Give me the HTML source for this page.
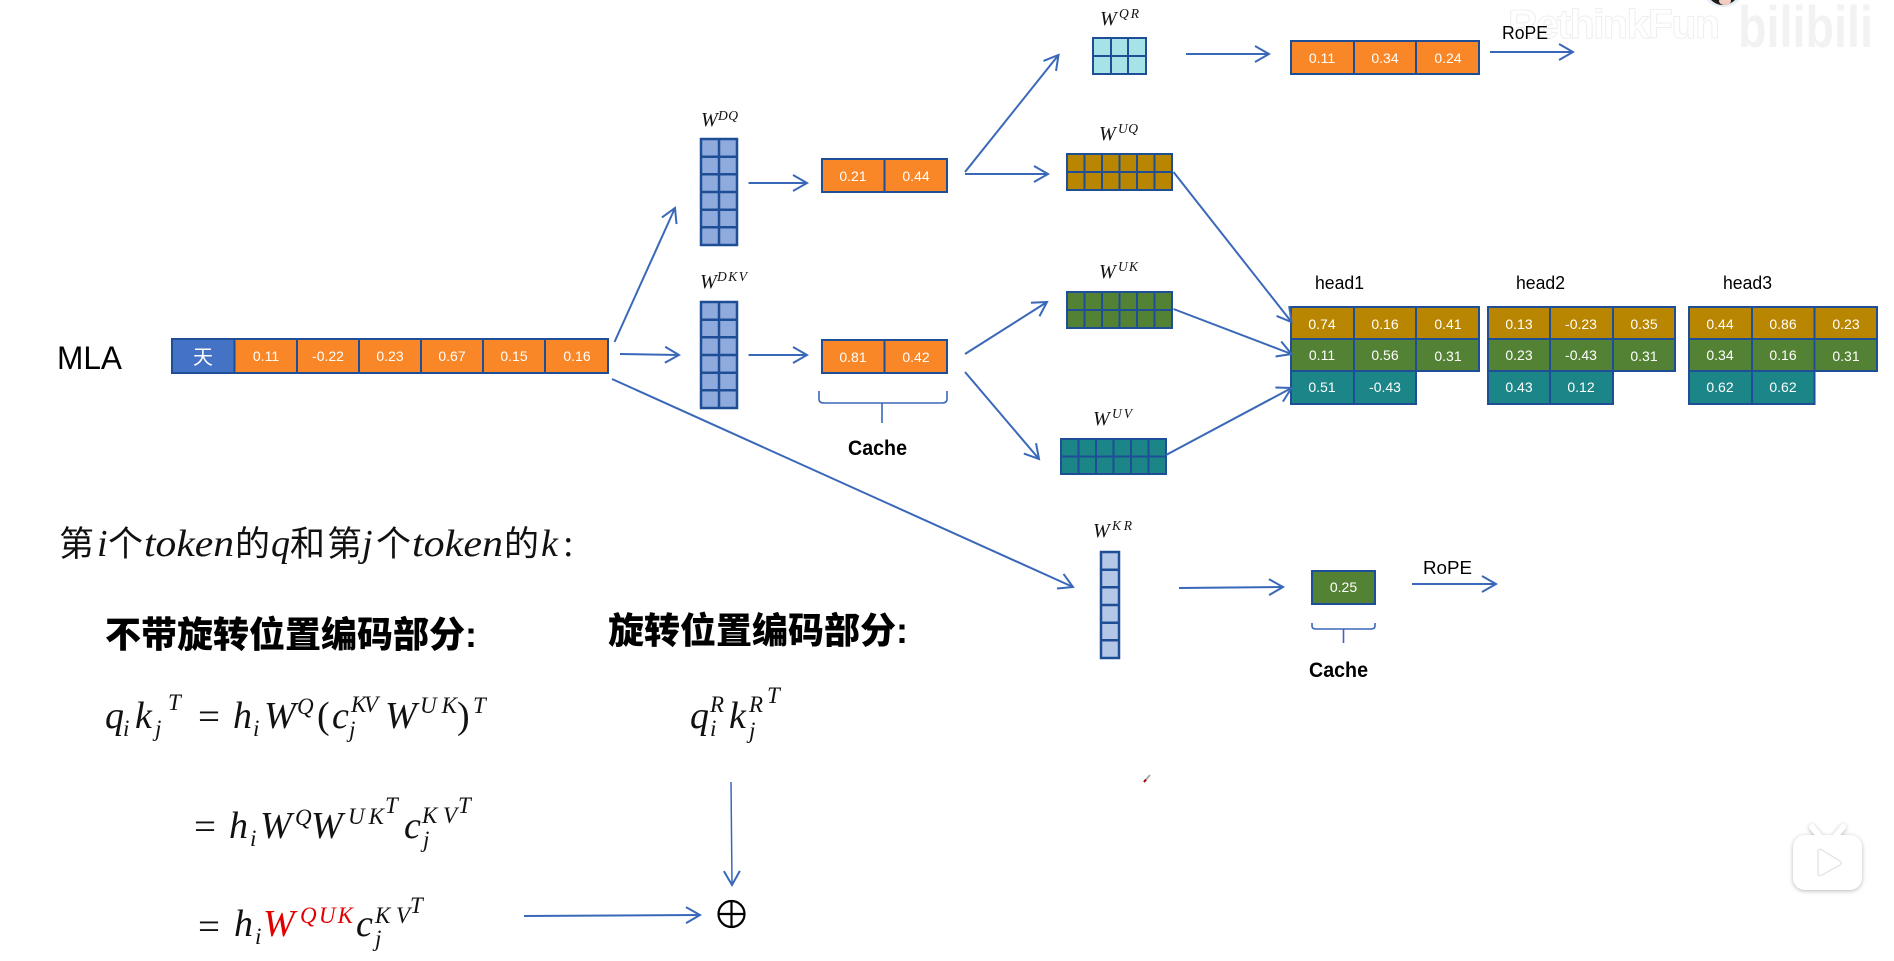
<!DOCTYPE html>
<html lang="zh">
<head>
<meta charset="utf-8">
<title>MLA diagram</title>
<style>
html,body{margin:0;padding:0;background:#fff;width:1894px;height:961px;overflow:hidden}
svg{display:block}
.c{font:14px "Liberation Sans",sans-serif;fill:#fff;text-anchor:middle}
.l{font:18px "Liberation Sans",sans-serif;fill:#000}
.b{font:bold 21px "Liberation Sans",sans-serif;fill:#000}
.m{font:italic 38px "Liberation Serif",serif;fill:#111}
.s{font:italic 23px "Liberation Serif",serif;fill:#111}
.w{font:italic 20px "Liberation Serif",serif;fill:#111}
.ws{font:italic 13.500px "Liberation Serif",serif;fill:#111}
.n{font:38px "Liberation Serif",serif;fill:#111}
.z{font:35px "Noto Sans CJK SC",sans-serif;fill:#111}
.h{font:900 36px "Liberation Sans","Noto Sans CJK SC",sans-serif;fill:#000}
.a{fill:none;stroke:#3a68b8;stroke-width:2;marker-end:url(#ah)}
.g{fill:none;stroke:#1e4e95;stroke-width:2}
.t{fill:none;stroke:#1e4e95;stroke-width:2.500}
.r{fill:#e00000}
</style>
</head>
<body>
<svg width="1894" height="961" viewBox="0 0 1894 961" xmlns="http://www.w3.org/2000/svg">
<defs>
<marker id="ah" markerUnits="userSpaceOnUse" markerWidth="30" markerHeight="30" refX="0" refY="0" viewBox="-20 -15 30 30" orient="auto" overflow="visible">
<path d="M-14,-8 L0,0 L-14,8" fill="none" stroke="#3a68b8" stroke-width="2"/>
</marker>
</defs>

<!-- watermark -->
<text x="1508" y="38" font-family="Liberation Sans,sans-serif" font-size="41" font-weight="700" fill="#fff" stroke="#efefef" stroke-width="1" textLength="212" lengthAdjust="spacing">RethinkFun</text>
<text x="1738" y="47" font-family="Liberation Sans,sans-serif" font-size="58" font-weight="700" fill="#f2f2f2" textLength="135" lengthAdjust="spacingAndGlyphs">bilibili</text>
<circle cx="1723" cy="-16" r="23" fill="#e4ecf6"/>
<circle cx="1723" cy="-12" r="17" fill="#1c1c1c"/>
<ellipse cx="1725" cy="1" rx="6" ry="4" fill="#f3cdbf"/>

<!-- MLA -->
<text x="57" y="369" font-family="Liberation Sans,sans-serif" font-size="32" fill="#000" textLength="65" lengthAdjust="spacingAndGlyphs">MLA</text>
<rect x="172" y="339" width="62.500" height="34" fill="#4472c4"/>
<rect x="234.500" y="339" width="373.500" height="34" fill="#f98728"/>
<rect x="172" y="339" width="436" height="34" class="g"/>
<path class="g" d="M234.500 339V373M297 339V373M359 339V373M421 339V373M483 339V373M545 339V373"/>
<text x="203" y="364" font-family="Noto Sans CJK SC,sans-serif" font-size="20" fill="#fff" text-anchor="middle">天</text>
<text class="c" x="266" y="361">0.11</text>
<text class="c" x="328" y="361">-0.22</text>
<text class="c" x="390" y="361">0.23</text>
<text class="c" x="452" y="361">0.67</text>
<text class="c" x="514" y="361">0.15</text>
<text class="c" x="577" y="361">0.16</text>

<!-- WDQ / WDKV -->
<text class="w" x="701" y="126">W</text><text class="ws" x="718" y="120" textLength="20">DQ</text>
<text class="w" x="700" y="288">W</text><text class="ws" x="717" y="281" textLength="30">DKV</text>
<rect x="701" y="139" width="36" height="106" fill="#8faadc"/>
<rect x="701" y="139" width="36" height="106" class="t"/>
<path class="t" d="M719 139V245M701 156.700H737M701 174.300H737M701 192H737M701 209.700H737M701 227.300H737"/>
<rect x="701" y="302" width="36" height="106" fill="#8faadc"/>
<rect x="701" y="302" width="36" height="106" class="t"/>
<path class="t" d="M719 302V408M701 319.700H737M701 337.300H737M701 355H737M701 372.700H737M701 390.300H737"/>

<!-- two-cell orange -->
<rect x="822" y="159" width="125" height="33" fill="#f98728"/>
<rect x="822" y="159" width="125" height="33" class="g"/>
<path class="g" d="M884.500 159V192"/>
<text class="c" x="853" y="181">0.21</text><text class="c" x="916" y="181">0.44</text>
<rect x="822" y="340" width="125" height="33" fill="#f98728"/>
<rect x="822" y="340" width="125" height="33" class="g"/>
<path class="g" d="M884.500 340V373"/>
<text class="c" x="853" y="362">0.81</text><text class="c" x="916" y="362">0.42</text>

<!-- cache brace 1 -->
<path d="M819 391V399Q819 403 824 403H882M882 423V403M947 391V399Q947 403 942 403H882" fill="none" stroke="#3a68b8" stroke-width="1.600"/>
<text class="b" x="848" y="455" textLength="59" lengthAdjust="spacingAndGlyphs">Cache</text>

<!-- WQR -->
<text class="w" x="1100" y="25">W</text><text class="ws" x="1119" y="18" textLength="20">QR</text>
<rect x="1093" y="38" width="53" height="36" fill="#a5e3e6"/>
<rect x="1093" y="38" width="53" height="36" class="g"/>
<path class="g" d="M1111 38V74M1128 38V74M1093 56H1146"/>

<!-- WUQ -->
<text class="w" x="1099" y="140">W</text><text class="ws" x="1118" y="133" textLength="20">UQ</text>
<rect x="1067" y="154" width="105" height="36" fill="#b88600"/>
<rect x="1067" y="154" width="105" height="36" class="g"/>
<path class="g" d="M1084.500 154V190M1102 154V190M1119.500 154V190M1137 154V190M1154.500 154V190M1067 172H1172"/>

<!-- WUK -->
<text class="w" x="1099" y="278">W</text><text class="ws" x="1118" y="271" textLength="20">UK</text>
<rect x="1067" y="292" width="105" height="36" fill="#548235"/>
<rect x="1067" y="292" width="105" height="36" class="g"/>
<path class="g" d="M1084.500 292V328M1102 292V328M1119.500 292V328M1137 292V328M1154.500 292V328M1067 310H1172"/>

<!-- WUV -->
<text class="w" x="1093" y="425">W</text><text class="ws" x="1112" y="418" textLength="20">UV</text>
<rect x="1061" y="439" width="105" height="35" fill="#1b8587"/>
<rect x="1061" y="439" width="105" height="35" class="g"/>
<path class="g" d="M1078.500 439V474M1096 439V474M1113.500 439V474M1131 439V474M1148.500 439V474M1061 456.500H1166"/>

<!-- top orange -->
<rect x="1291" y="41" width="188" height="33" fill="#f98728"/>
<rect x="1291" y="41" width="188" height="33" class="g"/>
<path class="g" d="M1354 41V74M1416 41V74"/>
<text class="c" x="1322" y="63">0.11</text><text class="c" x="1385" y="63">0.34</text><text class="c" x="1448" y="63">0.24</text>
<text class="l" x="1502" y="39" textLength="46" lengthAdjust="spacingAndGlyphs">RoPE</text>

<!-- heads -->
<text class="l" x="1315" y="289" textLength="49" lengthAdjust="spacingAndGlyphs">head1</text>
<text class="l" x="1516" y="289" textLength="49" lengthAdjust="spacingAndGlyphs">head2</text>
<text class="l" x="1723" y="289" textLength="49" lengthAdjust="spacingAndGlyphs">head3</text>

<!-- head1 -->
<g>
<rect x="1291" y="307" width="188" height="32" fill="#b88600"/>
<rect x="1291" y="339" width="188" height="32" fill="#548235"/>
<rect x="1291" y="371" width="125" height="33" fill="#1b8587"/>
<path class="g" d="M1291 307H1479V371H1416V404H1291ZM1291 339H1479M1291 371H1416M1354 307V404M1416 307V371"/>
<text class="c" x="1322" y="329">0.74</text><text class="c" x="1385" y="329">0.16</text><text class="c" x="1448" y="329">0.41</text>
<text class="c" x="1322" y="360">0.11</text><text class="c" x="1385" y="360">0.56</text><text class="c" x="1448" y="361">0.31</text>
<text class="c" x="1322" y="392">0.51</text><text class="c" x="1385" y="392">-0.43</text>
</g>
<!-- head2 -->
<g>
<rect x="1488" y="307" width="187" height="32" fill="#b88600"/>
<rect x="1488" y="339" width="187" height="32" fill="#548235"/>
<rect x="1488" y="371" width="125" height="33" fill="#1b8587"/>
<path class="g" d="M1488 307H1675V371H1613V404H1488ZM1488 339H1675M1488 371H1613M1550 307V404M1613 307V371"/>
<text class="c" x="1519" y="329">0.13</text><text class="c" x="1581" y="329">-0.23</text><text class="c" x="1644" y="329">0.35</text>
<text class="c" x="1519" y="360">0.23</text><text class="c" x="1581" y="360">-0.43</text><text class="c" x="1644" y="361">0.31</text>
<text class="c" x="1519" y="392">0.43</text><text class="c" x="1581" y="392">0.12</text>
</g>
<!-- head3 -->
<g>
<rect x="1689" y="307" width="188" height="32" fill="#b88600"/>
<rect x="1689" y="339" width="188" height="32" fill="#548235"/>
<rect x="1689" y="371" width="125" height="33" fill="#1b8587"/>
<path class="g" d="M1689 307H1877V371H1814.500V404H1689ZM1689 339H1877M1689 371H1814.500M1752 307V404M1814.500 307V371"/>
<text class="c" x="1720" y="329">0.44</text><text class="c" x="1783" y="329">0.86</text><text class="c" x="1846" y="329">0.23</text>
<text class="c" x="1720" y="360">0.34</text><text class="c" x="1783" y="360">0.16</text><text class="c" x="1846" y="361">0.31</text>
<text class="c" x="1720" y="392">0.62</text><text class="c" x="1783" y="392">0.62</text>
</g>

<!-- WKR -->
<text class="w" x="1093" y="537">W</text><text class="ws" x="1112" y="530" textLength="20">KR</text>
<rect x="1101" y="552" width="18" height="106" fill="#b4c7e7"/>
<rect x="1101" y="552" width="18" height="106" class="t"/>
<path class="t" d="M1101 569.700H1119M1101 587.300H1119M1101 605H1119M1101 622.700H1119M1101 640.300H1119"/>

<rect x="1312" y="571" width="63" height="33" fill="#548235"/>
<rect x="1312" y="571" width="63" height="33" class="g"/>
<text class="c" x="1343.500" y="592">0.25</text>
<path d="M1312 623V626Q1312 629 1316 629H1343.500M1343.500 643V629M1375 623V626Q1375 629 1371 629H1343.500" fill="none" stroke="#3a68b8" stroke-width="1.600"/>
<text class="b" x="1309" y="677" textLength="59" lengthAdjust="spacingAndGlyphs">Cache</text>
<text class="l" x="1423" y="574" textLength="49" lengthAdjust="spacingAndGlyphs">RoPE</text>

<!-- arrows -->
<path class="a" d="M614.500 342L675 208"/>
<path class="a" d="M620 354L679 355"/>
<path class="a" d="M748.500 183L807 183"/>
<path class="a" d="M748.500 355L807 355"/>
<path class="a" d="M612 379L1073 587"/>
<path class="a" d="M965 172L1058.500 55"/>
<path class="a" d="M965 174L1048 174"/>
<path class="a" d="M965 354L1047 302"/>
<path class="a" d="M965 372L1039 459"/>
<path class="a" d="M1186 54L1269 54"/>
<path class="a" d="M1490 52L1573 52"/>
<path class="a" d="M1173.500 172L1291.500 322"/>
<path class="a" d="M1173.500 309L1291.500 354"/>
<path class="a" d="M1166 455L1291.500 388"/>
<path class="a" d="M1179 588L1283 587"/>
<path class="a" d="M1412 584L1496 584"/>
<path class="a" d="M731 782L732 885" style="stroke-width:1.500"/>
<path class="a" d="M524 916L700 915"/>

<!-- left text -->
<text class="z" x="59" y="556">第</text>
<text class="m" x="97" y="556">i</text>
<text class="z" x="108" y="556">个</text>
<text class="m" x="144" y="556" textLength="90" lengthAdjust="spacingAndGlyphs">token</text>
<text class="z" x="235" y="556">的</text>
<text class="m" x="271" y="556">q</text>
<text class="z" x="290" y="556">和</text>
<text class="z" x="327" y="556">第</text>
<text class="m" x="362" y="556">j</text>
<text class="z" x="376" y="556">个</text>
<text class="m" x="412" y="556" textLength="91" lengthAdjust="spacingAndGlyphs">token</text>
<text class="z" x="504" y="556">的</text>
<text class="m" x="541" y="556">k</text>
<text class="n" x="563" y="556">:</text>

<text class="h" x="105" y="647">不带旋转位置编码部分:</text>
<text class="h" x="608" y="643">旋转位置编码部分:</text>

<!-- formula 1 -->
<text class="m" x="105" y="728">q</text><text class="s" x="123" y="736">i</text>
<text class="m" x="135" y="728">k</text><text class="s" x="155" y="736">j</text><text class="s" x="168" y="710">T</text>
<text class="n" x="198" y="729" textLength="22" lengthAdjust="spacingAndGlyphs">=</text>
<text class="m" x="233" y="728">h</text><text class="s" x="253" y="736">i</text>
<text class="m" x="264" y="728">W</text><text class="s" x="297" y="714">Q</text>
<text class="n" x="317" y="728">(</text>
<text class="m" x="332" y="728">c</text><text class="s" x="349" y="737">j</text><text class="s" x="351" y="712" textLength="27">KV</text>
<text class="m" x="385" y="728">W</text><text class="s" x="420" y="713" textLength="37">UK</text>
<text class="n" x="457" y="728">)</text><text class="s" x="473" y="713">T</text>

<!-- formula 2 -->
<text class="n" x="194" y="839" textLength="22" lengthAdjust="spacingAndGlyphs">=</text>
<text class="m" x="229" y="838">h</text><text class="s" x="250" y="846">i</text>
<text class="m" x="260" y="838">W</text><text class="s" x="295" y="825">Q</text>
<text class="m" x="311" y="838">W</text><text class="s" x="348" y="824" textLength="36">UK</text>
<text class="s" x="385" y="813">T</text>
<text class="m" x="404" y="838">c</text><text class="s" x="423" y="847">j</text><text class="s" x="422" y="823" textLength="35">KV</text>
<text class="s" x="458" y="813">T</text>

<!-- formula 3 -->
<text class="n" x="198" y="939" textLength="22" lengthAdjust="spacingAndGlyphs">=</text>
<text class="m" x="234" y="936">h</text><text class="s" x="255" y="944">i</text>
<text class="m r" x="263" y="936">W</text><text class="s r" x="300" y="923" textLength="53">QUK</text>
<text class="m" x="356" y="936">c</text><text class="s" x="375" y="946">j</text><text class="s" x="375" y="923" textLength="35">KV</text>
<text class="s" x="410" y="913">T</text>

<!-- right formula -->
<text class="m" x="690" y="728">q</text><text class="s" x="710" y="736">i</text><text class="s" x="710" y="712">R</text>
<text class="m" x="729" y="728">k</text><text class="s" x="749" y="738">j</text><text class="s" x="749" y="712">R</text><text class="s" x="767" y="703">T</text>

<!-- oplus -->
<circle cx="731.500" cy="914" r="13" fill="none" stroke="#000" stroke-width="2.200"/>
<path d="M718.500 914H744.500M731.500 901V927" stroke="#000" stroke-width="2.200" fill="none"/>

<!-- pen mark -->
<path d="M1144 782L1150 775" stroke="#aaa" stroke-width="2"/>
<path d="M1144 782L1146 779.500" stroke="#b00000" stroke-width="2"/>

<!-- bili icon -->
<g style="filter:drop-shadow(0 1px 2px rgba(0,0,0,.28))">
<path d="M1812 827L1821 838M1843 827L1834 838" stroke="#fff" stroke-width="6" stroke-linecap="round" fill="none"/>
<rect x="1793" y="835" width="69" height="55" rx="12" fill="#fff"/>
</g>
<path d="M1818 852V873Q1818 877 1822 875L1840 865Q1842 863 1840 861L1822 850Q1818 848 1818 852Z" fill="#fff" stroke="#e6e6e6" stroke-width="1.500"/>
</svg>
</body>
</html>
